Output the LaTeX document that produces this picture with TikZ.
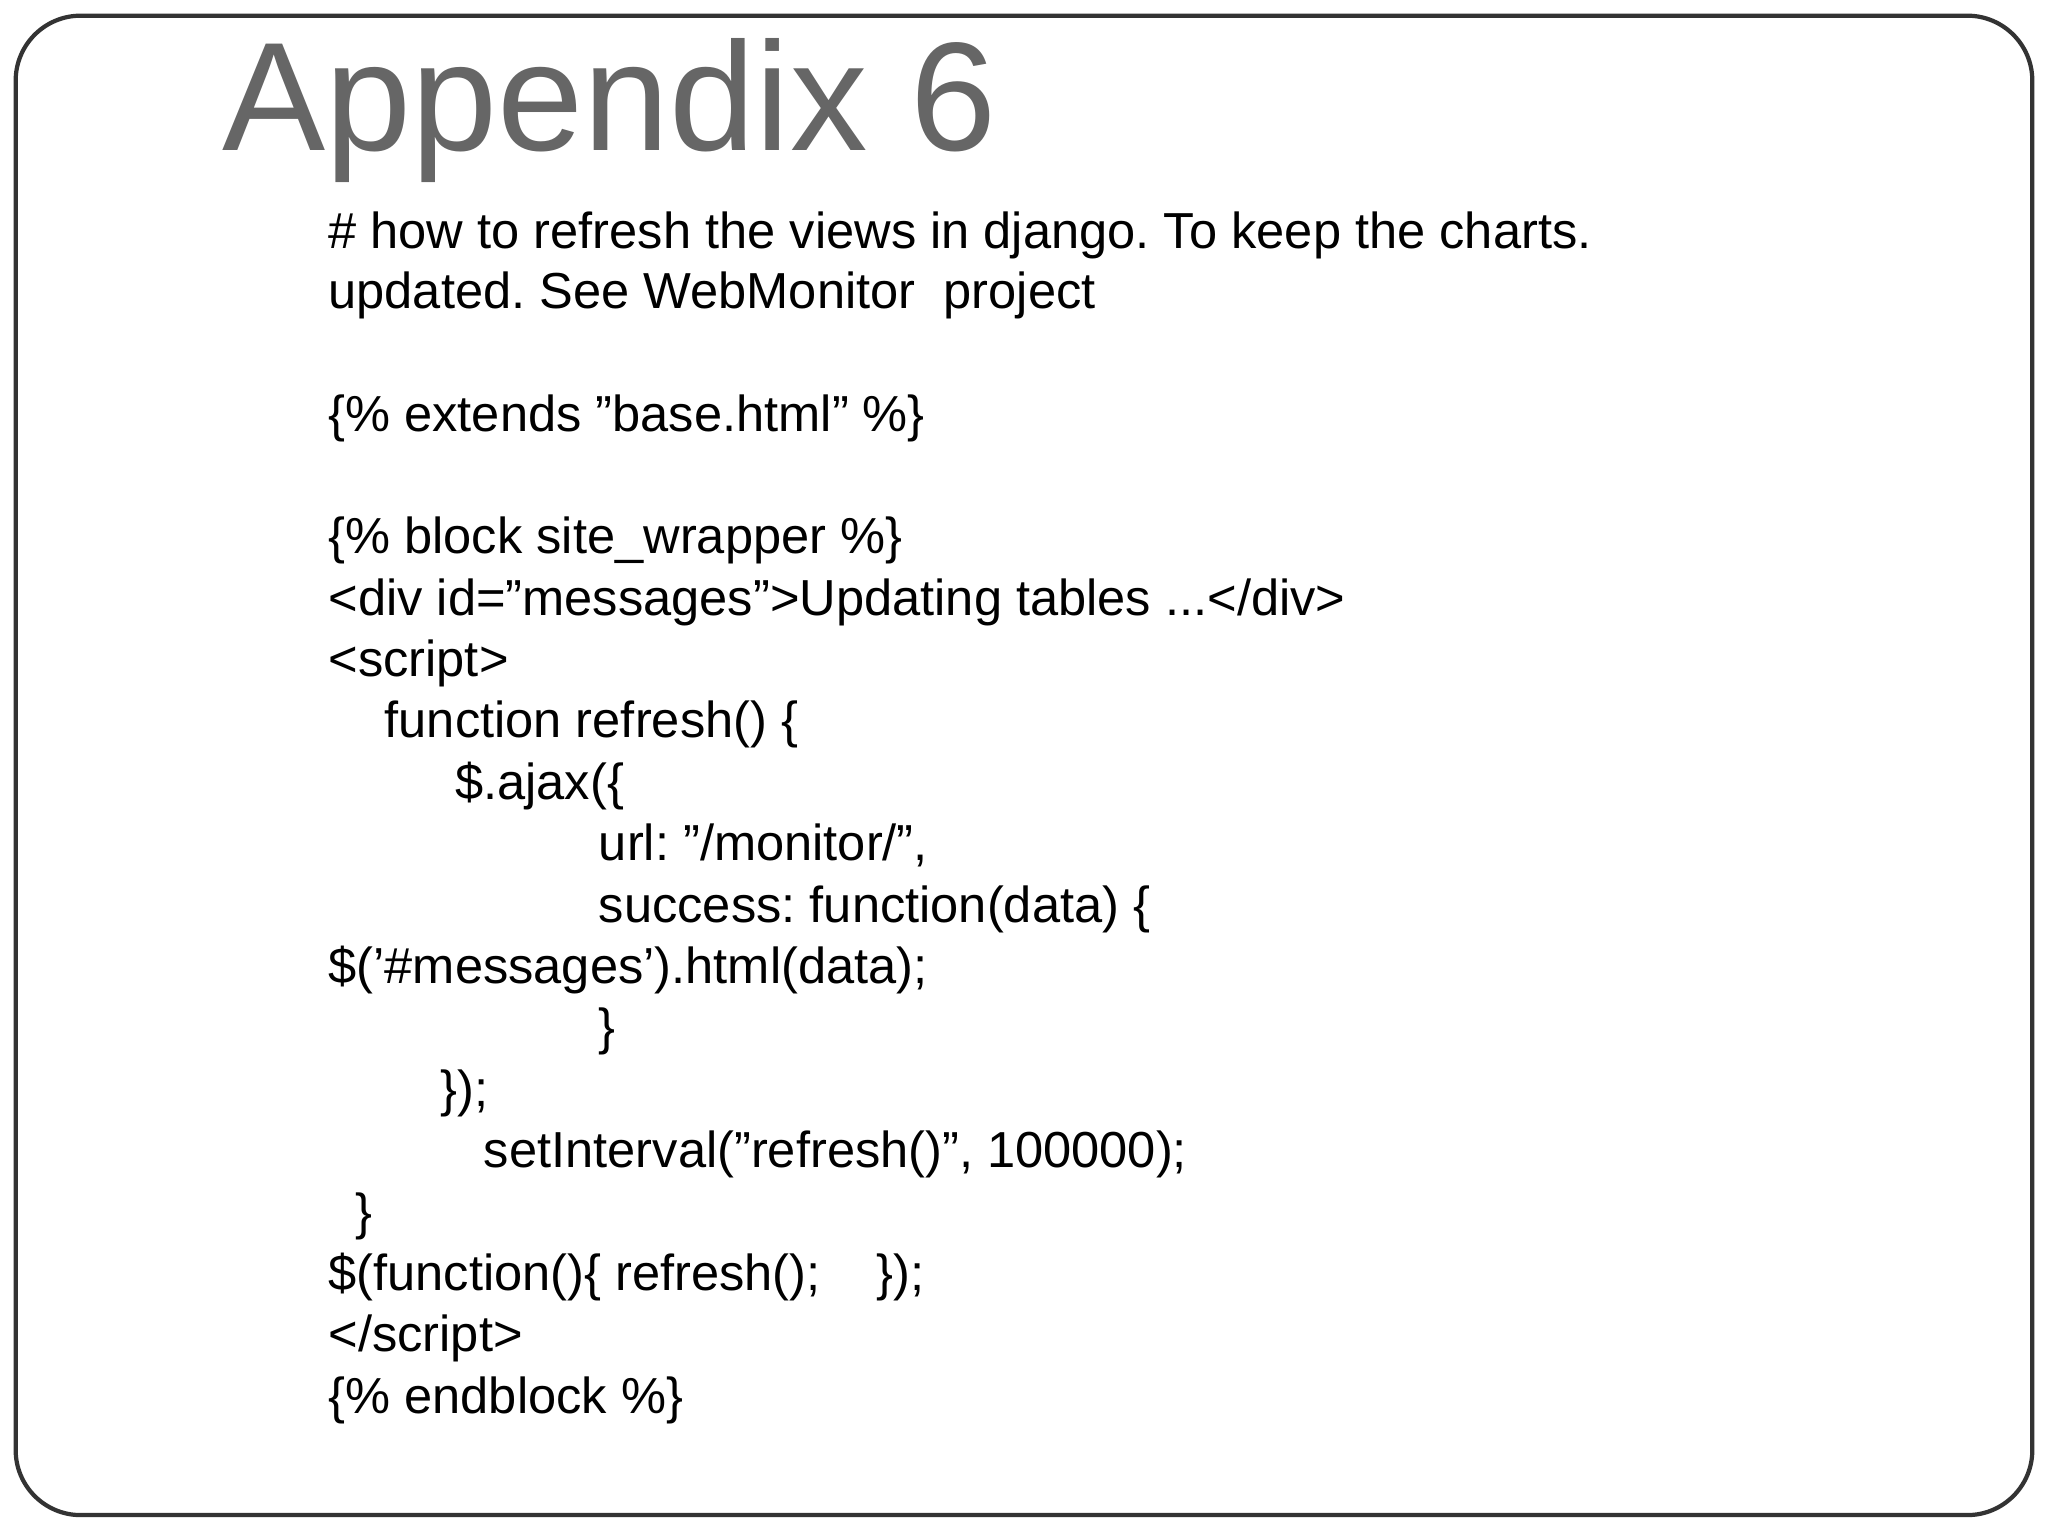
\documentclass[tikz,border=0pt]{standalone}
\usepackage{fontspec}
\setmainfont{Liberation Sans}
\newcommand{\dq}{\char34}
\newcommand{\sq}{\char39}
\begin{document}
\frenchspacing
\begin{tikzpicture}[x=0.01306cm,y=-0.01306cm,
  code/.style={anchor=base west,inner sep=0pt,font=\fontsize{14.4pt}{17pt}\selectfont}]
\useasboundingbox (0,0) rectangle (1568,1176);
\fill[white] (0,0) rectangle (1568,1176);
\draw[line width=1.2pt,rounded corners=0.65cm,black!80] (12,12) rectangle (1556,1160);
\node[anchor=base west,inner sep=0pt,text=black!60,font=\fontsize{44pt}{50pt}\selectfont] (title) at (170,115) {Appendix 6};
\node[code] (l1) at (251,190) {\# how to refresh the views in django. To keep the charts.};
\node[code] (l2) at (251,236) {updated. See WebMonitor\ \ project};
\node[code] (l3) at (251,330) {\{\% extends \dq base.html\dq\ \%\}};
\node[code] (l4) at (251,424) {\{\% block site\_wrapper \%\}};
\node[code] (l5) at (251,471) {<div id=\dq messages\dq>Updating tables ...</div>};
\node[code] (l6) at (251,518) {<script>};
\node[code] (l7) at (294,565) {function refresh() \{};
\node[code] (l8) at (348,612) {\$.ajax(\{};
\node[code] (l9) at (458,659) {url: \dq/monitor/\dq,};
\node[code] (l10) at (458,706) {success: function(data) \{};
\node[code] (l11) at (251,753) {\$(\sq\#messages\sq).html(data);};
\node[code] (l12) at (458,800) {\}};
\node[code] (l13) at (337,847) {\});};
\node[code] (l14) at (370,894) {setInterval(\dq refresh()\dq, 100000);};
\node[code] (l15) at (272,941) {\}};
\node[code] (l16) at (251,988) {\$(function()\{ refresh();\hspace{1.1em}\});};
\node[code] (l17) at (251,1035) {</script>};
\node[code] (l18) at (251,1082) {\{\% endblock \%\}};
\end{tikzpicture}
\end{document}
